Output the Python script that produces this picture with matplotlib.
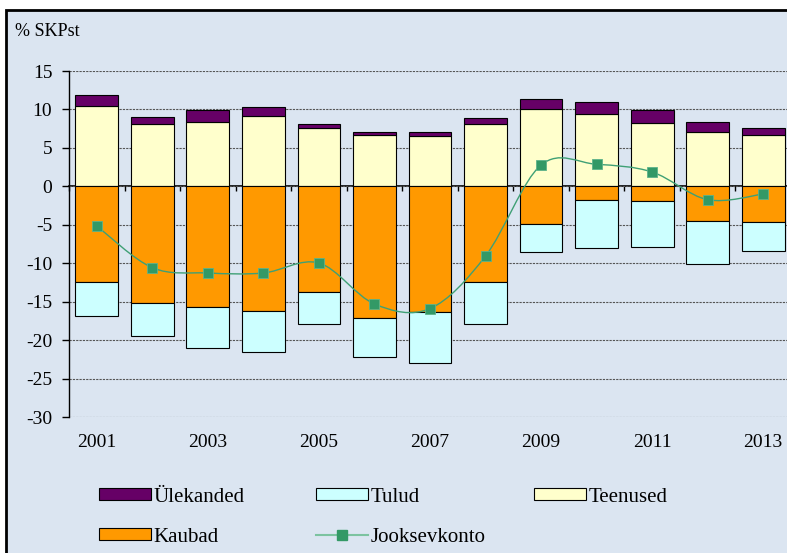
import matplotlib
matplotlib.use('Agg')
import matplotlib.pyplot as plt
from matplotlib.patches import Rectangle, PathPatch, Patch
from matplotlib.path import Path
from matplotlib.lines import Line2D
import numpy as np

plt.rcParams['font.family'] = ['Liberation Serif', 'DejaVu Serif']
plt.rcParams['font.size'] = 14
plt.rcParams['axes.unicode_minus'] = False

YEARS = list(range(2001, 2014))
ULEKANDED = [1.43, 0.95, 1.50, 1.10, 0.52, 0.43, 0.60, 0.78, 1.30, 1.56, 1.69, 1.38, 0.83]
TEENUSED = [10.40, 8.10, 8.40, 9.18, 7.54, 6.63, 6.50, 8.06, 10.10, 9.36, 8.19, 7.02, 6.71]
KAUBAD = [-12.45, -15.18, -15.74, -16.17, -13.79, -17.17, -16.40, -12.49, -4.95, -1.83, -1.96, -4.47, -4.69]
TULUD = [-4.45, -4.32, -5.33, -5.33, -4.07, -5.07, -6.58, -5.42, -3.55, -6.24, -5.89, -5.67, -3.73]
JOOKSEVKONTO = [-5.16, -10.58, -11.27, -11.27, -9.97, -15.30, -15.90, -9.06, 2.77, 2.86, 1.86, -1.74, -1.00]
TICK_YEARS = [2001, 2003, 2005, 2007, 2009, 2011, 2013]

C_ULE = '#660066'
C_TULUD = '#CCFFFF'
C_TEEN = '#FFFFCC'
C_KAUB = '#FF9900'
C_JK = '#339966'
BG = '#DBE5F1'

W, H = 787, 553

# ----------------------------------------------------------------------------------------------------
def smooth_path(x, y):
    # Excel-like smoothed line: cubic Bezier through the points
    x = np.asarray(x, float)
    y = np.asarray(y, float)
    verts = [(x[0], y[0])]
    codes = [Path.MOVETO]
    n = len(x)
    for i in range(n - 1):
        x0, y0 = (x[i - 1], y[i - 1]) if i > 0 else (x[i], y[i])
        x3, y3 = (x[i + 2], y[i + 2]) if i + 2 < n else (x[i + 1], y[i + 1])
        c1 = (x[i] + (x[i + 1] - x0) / 6, y[i] + (y[i + 1] - y0) / 6)
        c2 = (x[i + 1] - (x3 - x[i]) / 6, y[i + 1] - (y3 - y[i]) / 6)
        verts += [c1, c2, (x[i + 1], y[i + 1])]
        codes += [Path.CURVE4] * 3
    return Path(verts, codes)

# ----------------------------------------------------------------------------------------------------
fig = plt.figure(figsize=(W / 100, H / 100), dpi=100, facecolor='white')
fig.patches.append(Rectangle((6 / W, -0.02), 1.1, 1 - 9.5 / H + 0.02, transform=fig.transFigure,
                             facecolor=BG, edgecolor='black', linewidth=2, zorder=-10))

ax = fig.add_axes([69 / W, 1 - 417 / H, (791 - 69) / W, (417 - 71) / H])
ax.set_facecolor('none')

x = np.arange(len(YEARS))
bw = 0.77
kw = dict(width=bw, edgecolor='black', linewidth=0.8, zorder=3)
ax.bar(x, TEENUSED, color=C_TEEN, **kw)
ax.bar(x, ULEKANDED, bottom=TEENUSED, color=C_ULE, **kw)
ax.bar(x, KAUBAD, color=C_KAUB, **kw)
ax.bar(x, TULUD, bottom=KAUBAD, color=C_TULUD, **kw)

ax.add_patch(PathPatch(smooth_path(x, JOOKSEVKONTO), facecolor='none', edgecolor='#3FA075',
                       linewidth=1.0, zorder=4))
ax.plot(x, JOOKSEVKONTO, ls='none', marker='s', markersize=7, color=C_JK,
        markeredgecolor='#5DB38A', markeredgewidth=0.6, zorder=5)

ax.set_xlim(-0.5, len(YEARS) - 0.5)
ax.set_ylim(-30, 15)
ax.set_yticks(np.arange(-30, 16, 5))
ax.yaxis.grid(True, color='#555555', linestyle=(0, (2, 1)), linewidth=0.8)
ax.set_axisbelow(True)

for s in ['top', 'right', 'bottom']:
    ax.spines[s].set_visible(False)
ax.spines['left'].set_linewidth(1.0)
ax.tick_params(axis='y', direction='out', length=5, width=1, pad=7, labelsize=14)

ax.set_xticks([YEARS.index(yy) for yy in TICK_YEARS], [str(yy) for yy in TICK_YEARS])
ax.tick_params(axis='x', length=0, pad=12, labelsize=14)

sec = ax.secondary_xaxis(0, transform=ax.transData)
sec.set_xticks(np.arange(-0.5, len(YEARS), 1), labels=[])
sec.tick_params(direction='out', length=3.5, width=1, color='black')
sec.spines['bottom'].set_color('black')
sec.spines['bottom'].set_linewidth(1.2)

fig.text(15 / W, 1 - 31 / H, '% SKPst', ha='left', va='center', fontsize=13)

# legend
items = [
    (Patch(facecolor=C_ULE, edgecolor='black', linewidth=0.8), 'Ülekanded', 99, 497),
    (Patch(facecolor=C_TULUD, edgecolor='black', linewidth=0.8), 'Tulud', 316, 497),
    (Patch(facecolor=C_TEEN, edgecolor='black', linewidth=0.8), 'Teenused', 534, 497),
    (Patch(facecolor=C_KAUB, edgecolor='black', linewidth=0.8), 'Kaubad', 99, 537),
    (Line2D([], [], color='#7CC3A0', linewidth=1.5, marker='s', markersize=7,
            markerfacecolor=C_JK, markeredgecolor=C_JK), 'Jooksevkonto', 316, 537),
]
for h, lab, px, py in items:
    fig.legend([h], [lab], loc='center left', bbox_to_anchor=(px / W, 1 - py / H),
               frameon=False, borderpad=0, borderaxespad=0, handlelength=2.5,
               handleheight=0.55, handletextpad=0.12, numpoints=1, fontsize=15)

fig.savefig('out.png', dpi=100, facecolor='white')
